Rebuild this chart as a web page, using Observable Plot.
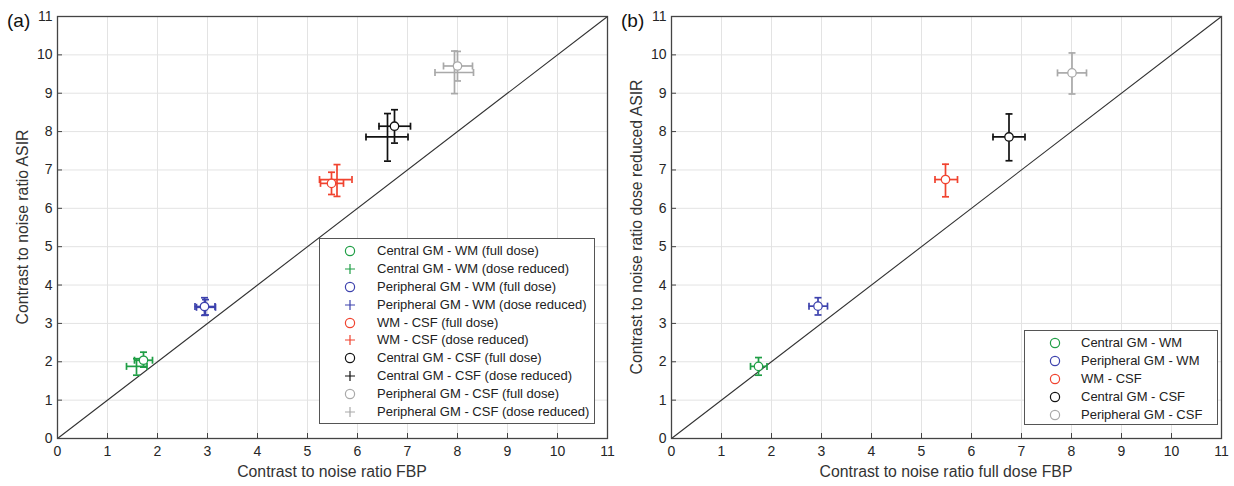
<!DOCTYPE html>
<html><head><meta charset="utf-8">
<script src="https://cdn.jsdelivr.net/npm/d3@7"></script>
<script src="https://cdn.jsdelivr.net/npm/@observablehq/plot@0.6"></script>
<style>
body{margin:0;background:#fff;font-family:"Liberation Sans",Arial,sans-serif;}
#wrap{position:relative;width:1234px;height:486px;overflow:hidden;}
.panel{position:absolute;top:0;width:617px;height:486px;}
.tag{position:absolute;font-size:19px;color:#111;line-height:1}
.xt{position:absolute;font-size:15.8px;color:#333;white-space:nowrap;transform:translate(-50%,-50%)}
.yt{position:absolute;font-size:15.8px;color:#333;white-space:nowrap;transform:translate(-50%,-50%) rotate(-90deg)}
.legend{position:absolute;background:#fff;border:1px solid #555;font-size:13px;color:#222;box-sizing:border-box}
.legend .row{position:relative;height:17.9px;line-height:17.9px;white-space:nowrap}
.legend svg{position:absolute;top:3px}
</style></head>
<body><div id="wrap"></div>
<script>
// ---------- data ----------
const groups = ["Central GM - WM", "Peripheral GM - WM", "WM - CSF", "Central GM - CSF", "Peripheral GM - CSF"];
const colors = ["#1f9e45", "#3d42ad", "#f0432f", "#111111", "#a9a9a9"];
const ticks = [0,1,2,3,4,5,6,7,8,9,10,11];
const diag = [0, 11];

// panel (a) full dose (circles)
const aFullX   = [1.72, 2.94, 5.48, 6.74, 8.00];
const aFullY   = [2.04, 3.44, 6.65, 8.14, 9.71];
const aFullXlo = [1.54, 2.75, 5.26, 6.43, 7.72];
const aFullXhi = [1.90, 3.15, 5.72, 7.06, 8.30];
const aFullYlo = [1.86, 3.21, 6.36, 7.70, 9.32];
const aFullYhi = [2.25, 3.67, 6.94, 8.57, 10.09];
// panel (a) dose reduced (plus)
const aRedX   = [1.58, 2.96, 5.59, 6.60, 7.94];
const aRedY   = [1.88, 3.42, 6.75, 7.86, 9.54];
const aRedXlo = [1.38, 2.78, 5.24, 6.17, 7.55];
const aRedXhi = [1.79, 3.16, 5.89, 7.01, 8.32];
const aRedYlo = [1.65, 3.22, 6.31, 7.23, 8.99];
const aRedYhi = [2.08, 3.62, 7.14, 8.47, 10.10];
// panel (b)
const bX   = [1.74, 2.93, 5.48, 6.75, 8.01];
const bY   = [1.88, 3.45, 6.75, 7.86, 9.53];
const bXlo = [1.58, 2.75, 5.27, 6.43, 7.72];
const bXhi = [1.91, 3.12, 5.72, 7.07, 8.30];
const bYlo = [1.65, 3.22, 6.30, 7.24, 8.98];
const bYhi = [2.11, 3.67, 7.15, 8.46, 10.05];

const legendA = [
  ["Central GM - WM (full dose)", 0, "o"], ["Central GM - WM (dose reduced)", 0, "+"],
  ["Peripheral GM - WM (full dose)", 1, "o"], ["Peripheral GM - WM (dose reduced)", 1, "+"],
  ["WM - CSF (full dose)", 2, "o"], ["WM - CSF (dose reduced)", 2, "+"],
  ["Central GM - CSF (full dose)", 3, "o"], ["Central GM - CSF (dose reduced)", 3, "+"],
  ["Peripheral GM - CSF (full dose)", 4, "o"], ["Peripheral GM - CSF (dose reduced)", 4, "+"]
];

// ---------- helpers ----------
const table = (X, Y, Xlo, Xhi, Ylo, Yhi) => X.map((x, i) => ({
  x, y: Y[i], xlo: Xlo[i], xhi: Xhi[i], ylo: Ylo[i], yhi: Yhi[i], color: colors[i], g: groups[i]
}));
const hcap = {draw(c){ c.moveTo(-3.5,0); c.lineTo(3.5,0); }};
const vcap = {draw(c){ c.moveTo(0,-3.5); c.lineTo(0,3.5); }};

function errMarks(data, sw) {
  return [
    Plot.ruleX(data, {x: "x", y1: "ylo", y2: "yhi", stroke: "color", strokeWidth: sw}),
    Plot.ruleY(data, {y: "y", x1: "xlo", x2: "xhi", stroke: "color", strokeWidth: sw}),
    Plot.dot(data, {x: "x", y: "ylo", symbol: hcap, stroke: "color", fill: "none", strokeWidth: sw}),
    Plot.dot(data, {x: "x", y: "yhi", symbol: hcap, stroke: "color", fill: "none", strokeWidth: sw}),
    Plot.dot(data, {x: "xlo", y: "y", symbol: vcap, stroke: "color", fill: "none", strokeWidth: sw}),
    Plot.dot(data, {x: "xhi", y: "y", symbol: vcap, stroke: "color", fill: "none", strokeWidth: sw})
  ];
}

function makePlot(marginLeft, marginRight, sets) {
  const marks = [
    Plot.gridX(ticks.slice(1, -1), {stroke: "#e3e3e3", strokeOpacity: 1}),
    Plot.gridY(ticks.slice(1, -1), {stroke: "#e3e3e3", strokeOpacity: 1}),
    Plot.line(diag.map(v => ({x: v, y: v})), {x: "x", y: "y", stroke: "#333", strokeWidth: 1.1}),
  ];
  for (const s of sets) {
    marks.push(...errMarks(s.data, 1.7));
    if (s.circle) marks.push(Plot.dot(s.data, {x: "x", y: "y", r: 4.2, fill: "white", stroke: "color", strokeWidth: 1.3}));
  }
  marks.push(
    Plot.axisX(ticks, {anchor: "bottom", tickSize: -5, tickPadding: 13, label: null, fontSize: 14, stroke: "#444"}),
    Plot.axisY(ticks, {anchor: "left", tickSize: -5, tickPadding: 10, label: null, fontSize: 14, stroke: "#444"}),
    Plot.frame({stroke: "#444", strokeWidth: 1.3})
  );
  return Plot.plot({
    width: 617, height: 486,
    marginLeft, marginRight, marginTop: 16, marginBottom: 48,
    x: {domain: [0, 11]}, y: {domain: [0, 11]},
    color: {type: "identity"},
    style: {fontFamily: "Liberation Sans, Arial, sans-serif", color: "#262626", background: "white"},
    marks
  });
}

const wrap = document.getElementById("wrap");
function addPanel(left, svg) {
  const d = document.createElement("div");
  d.className = "panel"; d.style.left = left + "px";
  d.appendChild(svg); wrap.appendChild(d);
}
function addText(cls, txt, x, y) {
  const d = document.createElement("div");
  d.className = cls; d.textContent = txt;
  d.style.left = x + "px"; d.style.top = y + "px";
  wrap.appendChild(d);
}
function marker(kind, color) {
  if (kind === "o") return `<svg width="12" height="12" viewBox="-6 -6 12 12"><circle r="4.6" fill="none" stroke="${color}" stroke-width="1.2"/></svg>`;
  return `<svg width="12" height="12" viewBox="-6 -6 12 12"><path d="M-5,0H5M0,-5V5" stroke="${color}" stroke-width="1.2"/></svg>`;
}
function addLegend(left, top, w, h, padTop, mx, tx, items) {
  const d = document.createElement("div");
  d.className = "legend";
  Object.assign(d.style, {left: left + "px", top: top + "px", width: w + "px", height: h + "px", paddingTop: padTop + "px"});
  for (const [label, ci, kind] of items) {
    const r = document.createElement("div");
    r.className = "row";
    r.innerHTML = marker(kind, colors[ci]).replace("<svg", `<svg style="left:${mx - 6}px"`) +
      `<span style="position:absolute;left:${tx}px">${label}</span>`;
    d.appendChild(r);
  }
  wrap.appendChild(d);
}

// panel (a)
const aFull = table(aFullX, aFullY, aFullXlo, aFullXhi, aFullYlo, aFullYhi);
const aRed = table(aRedX, aRedY, aRedXlo, aRedXhi, aRedYlo, aRedYhi);
addPanel(0, makePlot(57, 10, [{data: aRed, circle: false}, {data: aFull, circle: true}]));
// panel (b)
const bData = table(bX, bY, bXlo, bXhi, bYlo, bYhi);
addPanel(617, makePlot(54, 13, [{data: bData, circle: true}]));

addText("tag", "(a)", 7, 11);
addText("tag", "(b)", 621, 11);
addText("xt", "Contrast to noise ratio FBP", 332, 472);
addText("xt", "Contrast to noise ratio full dose FBP", 946, 472);
addText("yt", "Contrast to noise ratio ASIR", 23, 227);
addText("yt", "Contrast to noise ratio dose reduced ASIR", 637, 227);

addLegend(319, 238, 276, 186, 3, 30, 57, legendA);
addLegend(1024, 330, 194, 95, 3, 30, 56, groups.map((g, i) => [g, i, "o"]));
</script></body></html>
